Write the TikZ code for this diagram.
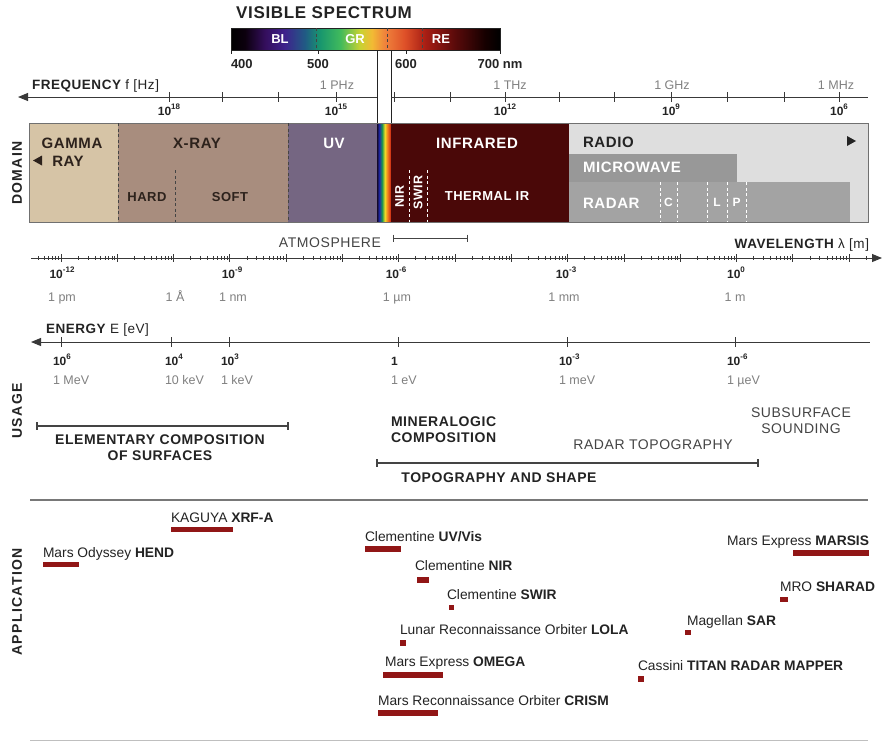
\documentclass[tikz,border=0pt]{standalone}
\usepackage{fontspec}
\setmainfont{Liberation Sans}
\newfontfamily\trk[LetterSpace=4]{Liberation Sans}
\newfontfamily\trkw[LetterSpace=10]{Liberation Sans}
\usetikzlibrary{arrows.meta}
\newcommand\fsz[1]{\fontsize{#1}{#1}\selectfont}
\newcommand\ex[1]{\raisebox{0.42em}{\fsz{8}#1}}
\definecolor{ink}{RGB}{35,35,35}
\definecolor{greytxt}{RGB}{128,128,128}
\definecolor{gammac}{RGB}{214,196,166}
\definecolor{xrayc}{RGB}{168,141,126}
\definecolor{uvc}{RGB}{117,102,130}
\definecolor{irc}{RGB}{74,8,8}
\definecolor{radioc}{RGB}{222,222,222}
\definecolor{microc}{RGB}{152,152,152}
\definecolor{radarc}{RGB}{163,163,163}
\definecolor{barred}{RGB}{145,22,22}
\definecolor{sepc}{RGB}{120,120,120}
\definecolor{xtxt}{RGB}{45,34,28}
\definecolor{vs1}{RGB}{12,0,14}
\definecolor{vs2}{RGB}{52,14,92}
\definecolor{vs3}{RGB}{62,34,140}
\definecolor{vs4}{RGB}{32,92,132}
\definecolor{vs5}{RGB}{24,150,110}
\definecolor{vs6}{RGB}{64,186,92}
\definecolor{vs7}{RGB}{200,210,50}
\definecolor{vs8}{RGB}{242,186,52}
\definecolor{vs9}{RGB}{240,130,60}
\definecolor{vs10}{RGB}{222,80,40}
\definecolor{vs11}{RGB}{168,30,20}
\definecolor{vs12}{RGB}{90,10,10}
\definecolor{vs13}{RGB}{22,0,0}
\definecolor{rb1}{RGB}{20,10,40}
\definecolor{rb2}{RGB}{30,40,170}
\definecolor{rb3}{RGB}{30,150,80}
\definecolor{rb4}{RGB}{240,220,40}
\definecolor{rb5}{RGB}{240,130,30}
\definecolor{rb6}{RGB}{200,30,20}
\pgfdeclarehorizontalshading{visspec}{100bp}{color(0bp)=(black); color(25bp)=(black); color(27.6bp)=(vs1); color(31.3bp)=(vs2); color(35bp)=(vs3); color(38.8bp)=(vs4); color(41.5bp)=(vs5); color(45.3bp)=(vs6); color(49bp)=(vs7); color(51.2bp)=(vs8); color(53.6bp)=(vs9); color(57.3bp)=(vs10); color(61.1bp)=(vs11); color(66.6bp)=(vs12); color(72.2bp)=(vs13); color(75bp)=(black); color(100bp)=(black)}
\pgfdeclarehorizontalshading{rbstrip}{100bp}{color(0bp)=(rb1); color(25bp)=(rb1); color(33bp)=(rb2); color(43bp)=(rb3); color(53bp)=(rb4); color(62bp)=(rb5); color(75bp)=(rb6); color(100bp)=(rb6)}
\begin{document}
\begin{tikzpicture}[x=1pt,y=-1pt,
  every node/.style={inner sep=0pt,outer sep=0pt},
  ttl/.style={font=\trk\bfseries\fsz{17},text=ink},
  spec/.style={font=\bfseries\fsz{13},text=white,anchor=base},
  num/.style={font=\bfseries\fsz{13},text=ink},
  axname/.style={font=\trk\fsz{13.5},text=ink},
  expo/.style={font=\bfseries\fsz{12},text=ink},
  unit/.style={font=\fsz{12.5},text=greytxt},
  axis/.style={draw=ink!90,line width=1},
  dom/.style={font=\trk\bfseries\fsz{15},anchor=base},
  sub/.style={font=\trk\bfseries\fsz{13},anchor=base},
  side/.style={font=\trkw\bfseries\fsz{14},text=ink,rotate=90},
  use/.style={font=\trk\bfseries\fsz{14},text=ink},
  usereg/.style={font=\trk\fsz{14},text=ink!85},
  app/.style={font=\fsz{13.8},text=ink,anchor=base west},
  dashd/.style={dash pattern=on 3pt off 2.5pt,line width=0.8},
  rng/.style={draw=ink!85,line width=1.2}
]
\useasboundingbox (0,0) rectangle (883,742);

% ---------- visible spectrum ----------
\node[ttl,anchor=base] (title) at (324,18.5) {VISIBLE SPECTRUM};
\node[draw=ink,line width=0.7,shading=visspec,minimum width=269,minimum height=22,anchor=north west] (visbar) at (231,28) {};
\foreach \x in {316,387,422} \draw[ink!85,dashd] (\x,28) -- (\x,50);
\node[spec] (bl) at (280,43) {BL};
\node[spec] (gr) at (355,43) {GR};
\node[spec] (re) at (441,43) {RE};
\draw[ink,line width=0.8] (231,50) -- (231,54) (318,50) -- (318,54) (406,50) -- (406,54) (500,50) -- (500,54);
\node[num,anchor=base west] (n400) at (231,68) {400};
\node[num,anchor=base] (n500) at (318,68) {500};
\node[num,anchor=base] (n600) at (406,68) {600};
\node[num,anchor=base] (n700) at (500,68) {700 nm};
\draw[ink,line width=1] (377,50) -- (377,123) (391,50) -- (391,123);

% ---------- frequency axis ----------
\coordinate (fL) at (18,97);
\coordinate (fA) at (377,97);
\coordinate (fB) at (391,97);
\coordinate (fR) at (868,97);
\draw[axis,{Triangle[length=10pt,width=8pt]}-] (fL) -- (fA);
\draw[axis] (fB) -- (fR);
\foreach \x in {169,222,278,336,394,450,505,559,614,671,727,784,839} \draw[axis] (\x,92) -- (\x,102);
\node[axname,anchor=base west] (freq) at (32,89) {{\bfseries FREQUENCY} f [Hz]};
\node[unit,anchor=base] (phz) at (337,89) {1 PHz};
\node[unit,anchor=base] (thz) at (510,89) {1 THz};
\node[unit,anchor=base] (ghz) at (672,89) {1 GHz};
\node[unit,anchor=base] (mhz) at (836,89) {1 MHz};
\node[expo,anchor=base] (f18) at (169,115) {10\ex{18}};
\node[expo,anchor=base] (f15) at (336,115) {10\ex{15}};
\node[expo,anchor=base] (f12) at (505,115) {10\ex{12}};
\node[expo,anchor=base] (f9) at (671,115) {10\ex{9}};
\node[expo,anchor=base] (f6) at (839,115) {10\ex{6}};

% ---------- domain band ----------
\fill[gammac] (29,123) rectangle (118,222);
\fill[xrayc] (118,123) rectangle (288,222);
\fill[uvc] (288,123) rectangle (377,222);
\shade[shading=rbstrip] (377,123) rectangle (391,222);
\fill[irc] (391,123) rectangle (569,222);
\fill[radioc] (569,123) rectangle (868,222);
\fill[microc] (569,154) rectangle (737,182);
\fill[radarc] (569,182) rectangle (850,222);
\draw[ink!65,line width=0.9] (29,123) rectangle (868,222);
\draw[ink!85,dashd] (118,123) -- (118,222) (288,123) -- (288,222) (175,170) -- (175,222);
\draw[white,dashd] (409,170) -- (409,222) (427,170) -- (427,222);
\foreach \x in {660,677,707,727,746} \draw[white,dashd] (\x,182) -- (\x,222);

\node[dom,text=xtxt] (gamma) at (72,148) {GAMMA};
\node[dom,text=xtxt] (ray) at (68,166) {RAY};
\fill[xtxt] (33,160.5) -- (42,155.5) -- (42,165.5) -- cycle;
\node[dom,text=xtxt] (xray) at (197,148) {X-RAY};
\node[sub,text=xtxt] (hard) at (147,201) {HARD};
\node[sub,text=xtxt] (soft) at (230,201) {SOFT};
\node[dom,text=white] (uv) at (334,148) {UV};
\node[dom,text=white] (ir) at (477,148) {INFRARED};
\node[font=\trk\bfseries\fsz{12.5},text=white,rotate=90] (nir) at (399.5,196.5) {NIR};
\node[font=\trk\bfseries\fsz{12.5},text=white,rotate=90] (swir) at (418,192.5) {SWIR};
\node[sub,text=white] (tir) at (487,200) {THERMAL IR};
\node[dom,text=ink,anchor=base west] (radio) at (583,147) {RADIO};
\fill[ink] (856,141) -- (847,136) -- (847,146) -- cycle;
\node[dom,text=white,anchor=base west] (micro) at (583,172) {MICROWAVE};
\node[dom,text=white,anchor=base west] (radar) at (583,208) {RADAR};
\node[sub,text=white,font=\bfseries\fsz{12}] (bc) at (668.5,206) {C};
\node[sub,text=white,font=\bfseries\fsz{12}] (bl2) at (717,206) {L};
\node[sub,text=white,font=\bfseries\fsz{12}] (bp) at (736.5,206) {P};
\node[side] (domain) at (17,173) {DOMAIN};

% ---------- wavelength axis ----------
\coordinate (wl) at (31,258);
\coordinate (wr) at (882,258);
\draw[axis,-{Triangle[length=10pt,width=8pt]}] (wl) -- (wr);
\foreach \k in {0,...,14}{\pgfmathsetmacro\xx{61+56.3*\k}\draw[axis] (\xx,254) -- (\xx,262);}
\foreach \k in {-1,...,14}{\foreach \m in {2,...,9}{%
  \pgfmathsetmacro\xx{61+56.3*(\k+log10(\m))}%
  \ifdim\xx pt>34pt \ifdim\xx pt<872pt \draw[axis,line width=0.6] (\xx,256) -- (\xx,260);\fi\fi}}
\node[usereg,anchor=base east] (atm) at (381,247) {ATMOSPHERE};
\coordinate (atmA) at (393,238);
\coordinate (atmB) at (467,238);
\draw[rng,line width=1] (atmA) -- (atmB);
\draw[rng,line width=1] (393,234.5) -- (393,241.5) (467,234.5) -- (467,241.5);
\node[axname,anchor=base east] (wlname) at (869,248) {{\bfseries WAVELENGTH} λ [m]};
\node[expo,anchor=base] (w12) at (62,278) {10\ex{-12}};
\node[expo,anchor=base] (w9) at (232,278) {10\ex{-9}};
\node[expo,anchor=base] (w6) at (396,278) {10\ex{-6}};
\node[expo,anchor=base] (w3) at (566,278) {10\ex{-3}};
\node[expo,anchor=base] (w0) at (736,278) {10\ex{0}};
\node[unit,anchor=base] (pm) at (62,301) {1 pm};
\node[unit,anchor=base] (ang) at (175,301) {1 Å};
\node[unit,anchor=base] (nm) at (233,301) {1 nm};
\node[unit,anchor=base] (um) at (397,301) {1 µm};
\node[unit,anchor=base] (mm) at (564,301) {1 mm};
\node[unit,anchor=base] (m) at (735,301) {1 m};

% ---------- energy axis ----------
\coordinate (el) at (31,342);
\coordinate (er) at (870,342);
\draw[axis,{Triangle[length=10pt,width=8pt]}-] (el) -- (er);
\foreach \x in {61,171,229,398,567,735} \draw[axis] (\x,337) -- (\x,347);
\node[axname,anchor=base west] (ename) at (46,333) {{\bfseries ENERGY} E [eV]};
\node[expo,anchor=base west] (e6) at (53,365) {10\ex{6}};
\node[expo,anchor=base west] (e4) at (165,365) {10\ex{4}};
\node[expo,anchor=base west] (e3) at (221,365) {10\ex{3}};
\node[expo,anchor=base west] (e0) at (391,365) {1};
\node[expo,anchor=base west] (em3) at (559,365) {10\ex{-3}};
\node[expo,anchor=base west] (em6) at (727,365) {10\ex{-6}};
\node[unit,anchor=base west] (mev) at (53,384) {1 MeV};
\node[unit,anchor=base west] (kev10) at (165,384) {10 keV};
\node[unit,anchor=base west] (kev) at (221,384) {1 keV};
\node[unit,anchor=base west] (ev) at (391,384) {1 eV};
\node[unit,anchor=base west] (mev3) at (559,384) {1 meV};
\node[unit,anchor=base west] (uev) at (727,384) {1 µeV};

% ---------- usage ----------
\node[side] (usage) at (17,411) {USAGE};
\coordinate (elA) at (37,426);
\coordinate (elB) at (288,426);
\draw[rng] (elA) -- (elB);
\draw[rng] (37,422) -- (37,430) (288,422) -- (288,430);
\node[use,anchor=base] (elem1) at (160,444) {ELEMENTARY COMPOSITION};
\node[use,anchor=base] (elem2) at (160,460) {OF SURFACES};
\node[use,anchor=base west] (min1) at (391,426) {MINERALOGIC};
\node[use,anchor=base west] (min2) at (391,442) {COMPOSITION};
\node[usereg,anchor=base] (radtopo) at (653,449) {RADAR TOPOGRAPHY};
\coordinate (tpA) at (377,463);
\coordinate (tpB) at (758,463);
\draw[rng] (tpA) -- (tpB);
\draw[rng] (377,459) -- (377,467) (758,459) -- (758,467);
\node[use,anchor=base] (topo) at (499,482) {TOPOGRAPHY AND SHAPE};
\node[usereg,anchor=base] (sub1) at (801,417) {SUBSURFACE};
\node[usereg,anchor=base] (sub2) at (801,433.5) {SOUNDING};
\draw[sepc,line width=1.5] (30,500) -- (868,500);

% ---------- application ----------
\node[side] (appl) at (17,602) {APPLICATION};
\node[app] (kag) at (171,522) {KAGUYA \textbf{XRF-A}};
\fill[barred] (171,527) rectangle (233,532);
\node[app] (hend) at (43,557) {Mars Odyssey \textbf{HEND}};
\fill[barred] (43,562) rectangle (79,567);
\node[app] (cuv) at (365,541.5) {Clementine \textbf{UV/Vis}};
\fill[barred] (365,546) rectangle (401,551.5);
\node[app] (cnir) at (415,570) {Clementine \textbf{NIR}};
\fill[barred] (417,577) rectangle (429,583);
\node[app] (cswir) at (447,599) {Clementine \textbf{SWIR}};
\fill[barred] (449,605) rectangle (454,610);
\node[app] (lola) at (400,634) {Lunar Reconnaissance Orbiter \textbf{LOLA}};
\fill[barred] (400,639.5) rectangle (406,645.5);
\node[app] (omega) at (385,666.5) {Mars Express \textbf{OMEGA}};
\fill[barred] (383,672) rectangle (443,678);
\node[app] (crism) at (378,705) {Mars Reconnaissance Orbiter \textbf{CRISM}};
\fill[barred] (378,710) rectangle (438,716);
\node[app,anchor=base east] (marsis) at (869,545) {Mars Express \textbf{MARSIS}};
\fill[barred] (793,550) rectangle (869,555.5);
\node[app] (sharad) at (780,591.5) {MRO \textbf{SHARAD}};
\fill[barred] (780,597) rectangle (788,602);
\node[app] (sar) at (687,625) {Magellan \textbf{SAR}};
\fill[barred] (685,629.5) rectangle (690.5,635);
\node[app] (titan) at (638,670.5) {Cassini \textbf{TITAN RADAR MAPPER}};
\fill[barred] (638,676) rectangle (644,682);
\draw[black!25,line width=1] (30,740.5) -- (868,740.5);
\end{tikzpicture}
\end{document}
